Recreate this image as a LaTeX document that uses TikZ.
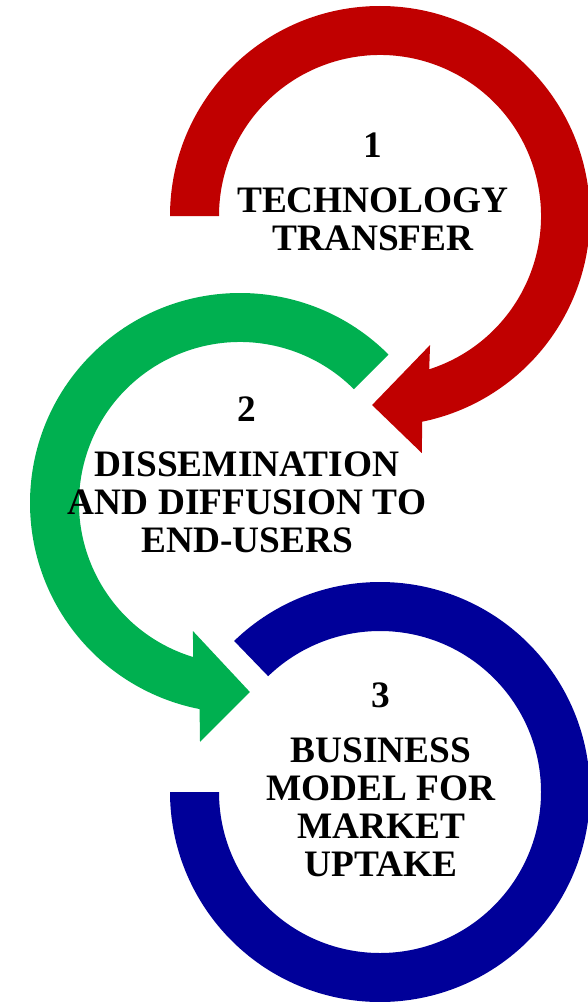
\documentclass[tikz,border=0pt]{standalone}
\usepackage{fontspec}
\setmainfont{Liberation Serif}
\usetikzlibrary{calc,positioning}
\definecolor{ringRed}{RGB}{192,0,0}
\definecolor{ringGreen}{RGB}{0,176,80}
\definecolor{ringBlue}{RGB}{0,0,153}
\tikzset{stepText/.style={align=center, inner sep=0pt,
    font=\fontsize{28}{28.5}\selectfont\bfseries}}

\begin{document}
\begin{tikzpicture}[x=0.75pt,y=0.75pt]
    \useasboundingbox (0,0) rectangle (587,-1002);
    \coordinate (c1) at (380,-216);
    \coordinate (c2) at (240,-503);
    \coordinate (c3) at (380,-792);
    % ring 3, no head
    \fill [ringBlue] ($(c3)+(134:210)$) arc[start angle=134, end angle=-180, radius=210]
      -- ($(c3)+(180:161)$) arc[start angle=-180, end angle=134, radius=161] -- cycle;
    % ring 1 with its head
    \fill [ringRed] ($(c1)+(180:210)$) arc[start angle=180, end angle=-78.4, radius=210]
      -- ($(c1)+(-80:240.7)$) -- ($(c1)+(-92.4:189.2)$) -- ($(c1)+(-68.8:138.4)$)
      -- ($(c1)+(-72.2:161)$) arc[start angle=-72.2, end angle=180, radius=161] -- cycle;
    % ring 2 with its head
    \fill [ringGreen] ($(c2)+(45:210)$) arc[start angle=45, end angle=258.9, radius=210]
      -- ($(c2)+(260.5:242.3)$) -- ($(c2)+(273:189.3)$) -- ($(c2)+(249.8:136.4)$)
      -- ($(c2)+(253.1:161)$) arc[start angle=253.1, end angle=45, radius=161] -- cycle;
    \node [stepText, anchor=north] (transfer) at (373,-133) {1\\[12.75pt]TECHNOLOGY\\TRANSFER};
    \node [stepText, anchor=north] (diffusion) at (247,-397) {2\\[12.75pt]DISSEMINATION\\AND DIFFUSION TO\\END-USERS};
    \node [stepText, anchor=north] (business) at (381,-683) {3\\[12.75pt]BUSINESS\\MODEL FOR\\MARKET\\UPTAKE};
\end{tikzpicture}
\end{document}
